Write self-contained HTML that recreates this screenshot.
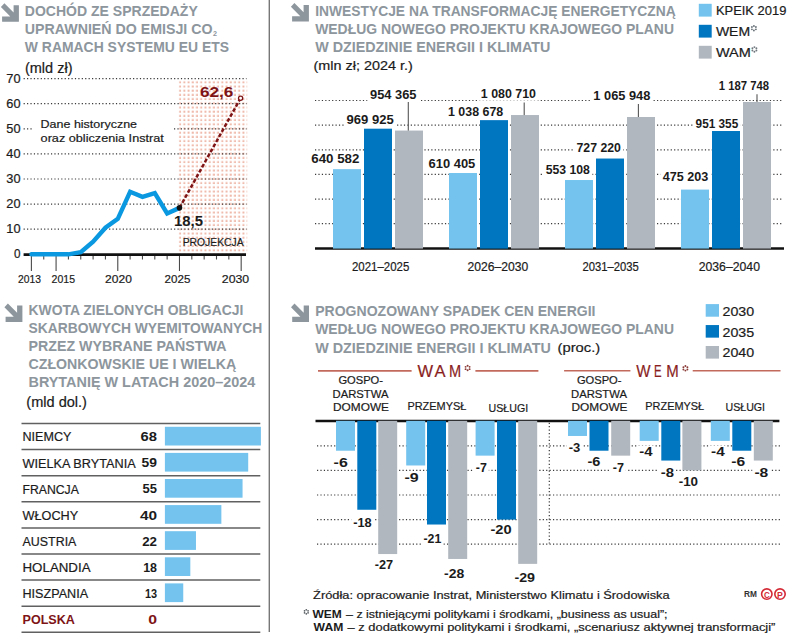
<!DOCTYPE html>
<html><head><meta charset="utf-8"><title>Infografika</title>
<style>html,body{margin:0;padding:0;background:#fff;} svg{display:block;font-family:"Liberation Sans",sans-serif;}</style>
</head><body>
<svg width="788" height="635" viewBox="0 0 788 635">
<rect width="788" height="635" fill="#fff"/>
<line x1="269.30" y1="0.00" x2="269.30" y2="632.00" stroke="#777777" stroke-width="1.4"/>
<polygon fill="#8d969d" points="0.90,6.98 4.40,3.30 13.60,12.50 13.60,5.14 18.90,5.14 18.90,21.70 2.10,21.70 2.10,16.40 10.30,16.40"/>
<text id="t0" x="24.80" y="15.70" font-size="14.2" font-weight="bold" fill="#8d969d" stroke="#8d969d" stroke-width="0" textLength="172.99" lengthAdjust="spacingAndGlyphs">DOCHÓD ZE SPRZEDAŻY</text>
<text id="t1" x="24.80" y="33.80" font-size="14.2" font-weight="bold" fill="#8d969d" stroke="#8d969d" stroke-width="0" textLength="187.78" lengthAdjust="spacingAndGlyphs">UPRAWNIEŃ DO EMISJI CO</text>
<text id="t2" x="212.90" y="36.00" font-size="8.0" font-weight="bold" fill="#8d969d" stroke="#8d969d" stroke-width="0" textLength="4.01" lengthAdjust="spacingAndGlyphs">2</text>
<text id="t3" x="24.80" y="51.70" font-size="14.2" font-weight="bold" fill="#8d969d" stroke="#8d969d" stroke-width="0" textLength="204.33" lengthAdjust="spacingAndGlyphs">W RAMACH SYSTEMU EU ETS</text>
<text id="t4" x="24.95" y="72.50" font-size="14.0" font-weight="normal" fill="#1b1b1b" stroke="#1b1b1b" stroke-width="0.2" textLength="47.61" lengthAdjust="spacingAndGlyphs">(mld zł)</text>
<defs><pattern id="pk" x="178.6" y="80.8" width="4.22" height="4.2" patternUnits="userSpaceOnUse"><rect x="0.5" y="0.5" width="2.0" height="2.0" fill="#efbaab"/></pattern></defs>
<rect x="178.60" y="79.50" width="68.60" height="174.50" fill="url(#pk)"/>
<line x1="23.60" y1="78.60" x2="246.50" y2="78.60" stroke="#3a3a3a" stroke-width="1.2" stroke-dasharray="1.2 2.22"/>
<line x1="23.60" y1="103.70" x2="246.50" y2="103.70" stroke="#3a3a3a" stroke-width="1.2" stroke-dasharray="1.2 2.22"/>
<line x1="23.60" y1="128.80" x2="33.50" y2="128.80" stroke="#3a3a3a" stroke-width="1.2" stroke-dasharray="1.2 2.22"/>
<line x1="174.00" y1="128.80" x2="246.50" y2="128.80" stroke="#3a3a3a" stroke-width="1.2" stroke-dasharray="1.2 2.22"/>
<line x1="23.60" y1="153.90" x2="246.50" y2="153.90" stroke="#3a3a3a" stroke-width="1.2" stroke-dasharray="1.2 2.22"/>
<line x1="23.60" y1="179.00" x2="246.50" y2="179.00" stroke="#3a3a3a" stroke-width="1.2" stroke-dasharray="1.2 2.22"/>
<line x1="23.60" y1="204.10" x2="246.50" y2="204.10" stroke="#3a3a3a" stroke-width="1.2" stroke-dasharray="1.2 2.22"/>
<line x1="23.60" y1="229.20" x2="246.50" y2="229.20" stroke="#3a3a3a" stroke-width="1.2" stroke-dasharray="1.2 2.22"/>
<text id="t5" x="6.30" y="82.60" font-size="12.2" font-weight="normal" fill="#1b1b1b" stroke="#1b1b1b" stroke-width="0.2" textLength="14.23" lengthAdjust="spacingAndGlyphs">70</text>
<text id="t6" x="6.30" y="107.70" font-size="12.2" font-weight="normal" fill="#1b1b1b" stroke="#1b1b1b" stroke-width="0.2" textLength="14.23" lengthAdjust="spacingAndGlyphs">60</text>
<text id="t7" x="6.30" y="132.80" font-size="12.2" font-weight="normal" fill="#1b1b1b" stroke="#1b1b1b" stroke-width="0.2" textLength="14.23" lengthAdjust="spacingAndGlyphs">50</text>
<text id="t8" x="6.30" y="157.90" font-size="12.2" font-weight="normal" fill="#1b1b1b" stroke="#1b1b1b" stroke-width="0.2" textLength="14.23" lengthAdjust="spacingAndGlyphs">40</text>
<text id="t9" x="6.30" y="183.00" font-size="12.2" font-weight="normal" fill="#1b1b1b" stroke="#1b1b1b" stroke-width="0.2" textLength="14.23" lengthAdjust="spacingAndGlyphs">30</text>
<text id="t10" x="6.30" y="208.10" font-size="12.2" font-weight="normal" fill="#1b1b1b" stroke="#1b1b1b" stroke-width="0.2" textLength="14.23" lengthAdjust="spacingAndGlyphs">20</text>
<text id="t11" x="6.30" y="233.20" font-size="12.2" font-weight="normal" fill="#1b1b1b" stroke="#1b1b1b" stroke-width="0.2" textLength="14.23" lengthAdjust="spacingAndGlyphs">10</text>
<text id="t12" x="14.00" y="258.30" font-size="12.2" font-weight="normal" fill="#1b1b1b" stroke="#1b1b1b" stroke-width="0.2" textLength="6.51" lengthAdjust="spacingAndGlyphs">0</text>
<text id="t13" x="40.60" y="128.20" font-size="11.3" font-weight="normal" fill="#1b1b1b" stroke="#1b1b1b" stroke-width="0.2" textLength="96.42" lengthAdjust="spacingAndGlyphs">Dane historyczne</text>
<text id="t14" x="40.60" y="141.60" font-size="11.3" font-weight="normal" fill="#1b1b1b" stroke="#1b1b1b" stroke-width="0.2" textLength="123.23" lengthAdjust="spacingAndGlyphs">oraz obliczenia Instrat</text>
<line x1="31.40" y1="254.00" x2="31.40" y2="271.00" stroke="#4a4a4a" stroke-width="1.1"/>
<line x1="43.74" y1="254.00" x2="43.74" y2="259.50" stroke="#4a4a4a" stroke-width="1.1"/>
<line x1="56.08" y1="254.00" x2="56.08" y2="271.00" stroke="#4a4a4a" stroke-width="1.1"/>
<line x1="68.42" y1="254.00" x2="68.42" y2="259.50" stroke="#4a4a4a" stroke-width="1.1"/>
<line x1="80.76" y1="254.00" x2="80.76" y2="259.50" stroke="#4a4a4a" stroke-width="1.1"/>
<line x1="93.10" y1="254.00" x2="93.10" y2="259.50" stroke="#4a4a4a" stroke-width="1.1"/>
<line x1="105.44" y1="254.00" x2="105.44" y2="259.50" stroke="#4a4a4a" stroke-width="1.1"/>
<line x1="117.78" y1="254.00" x2="117.78" y2="271.00" stroke="#4a4a4a" stroke-width="1.1"/>
<line x1="130.12" y1="254.00" x2="130.12" y2="259.50" stroke="#4a4a4a" stroke-width="1.1"/>
<line x1="142.46" y1="254.00" x2="142.46" y2="259.50" stroke="#4a4a4a" stroke-width="1.1"/>
<line x1="154.80" y1="254.00" x2="154.80" y2="259.50" stroke="#4a4a4a" stroke-width="1.1"/>
<line x1="167.14" y1="254.00" x2="167.14" y2="259.50" stroke="#4a4a4a" stroke-width="1.1"/>
<line x1="179.48" y1="254.00" x2="179.48" y2="271.00" stroke="#4a4a4a" stroke-width="1.1"/>
<line x1="191.82" y1="254.00" x2="191.82" y2="259.50" stroke="#4a4a4a" stroke-width="1.1"/>
<line x1="204.16" y1="254.00" x2="204.16" y2="259.50" stroke="#4a4a4a" stroke-width="1.1"/>
<line x1="216.50" y1="254.00" x2="216.50" y2="259.50" stroke="#4a4a4a" stroke-width="1.1"/>
<line x1="228.84" y1="254.00" x2="228.84" y2="259.50" stroke="#4a4a4a" stroke-width="1.1"/>
<line x1="241.18" y1="254.00" x2="241.18" y2="271.00" stroke="#4a4a4a" stroke-width="1.1"/>
<line x1="23.60" y1="254.60" x2="246.00" y2="254.60" stroke="#111" stroke-width="2.6"/>
<text id="t15" x="18.10" y="282.70" font-size="11.8" font-weight="normal" fill="#1b1b1b" stroke="#1b1b1b" stroke-width="0.2" textLength="22.90" lengthAdjust="spacingAndGlyphs">2013</text>
<text id="t16" x="51.60" y="282.70" font-size="11.8" font-weight="normal" fill="#1b1b1b" stroke="#1b1b1b" stroke-width="0.2" textLength="23.40" lengthAdjust="spacingAndGlyphs">2015</text>
<text id="t17" x="105.10" y="282.70" font-size="11.8" font-weight="normal" fill="#1b1b1b" stroke="#1b1b1b" stroke-width="0.2" textLength="26.80" lengthAdjust="spacingAndGlyphs">2020</text>
<text id="t18" x="164.60" y="282.70" font-size="11.8" font-weight="normal" fill="#1b1b1b" stroke="#1b1b1b" stroke-width="0.2" textLength="25.80" lengthAdjust="spacingAndGlyphs">2025</text>
<text id="t19" x="221.80" y="282.70" font-size="11.8" font-weight="normal" fill="#1b1b1b" stroke="#1b1b1b" stroke-width="0.2" textLength="27.40" lengthAdjust="spacingAndGlyphs">2030</text>
<polyline fill="none" stroke="#0a98e0" stroke-width="4.4" stroke-linejoin="miter" stroke-linecap="round" points="31.40,254.30 43.74,254.30 56.08,254.30 68.42,254.30 80.76,252.29 93.10,241.75 105.44,227.69 117.78,218.91 130.12,191.80 142.46,196.82 154.80,193.06 167.14,213.39 179.48,207.87"/>
<line x1="179.48" y1="207.87" x2="240.5" y2="98.3" stroke="#7e1416" stroke-width="2.5" stroke-dasharray="3.8 2.0"/>
<circle cx="179.48" cy="207.87" r="2.8" fill="#111"/>
<circle cx="240.6" cy="98.3" r="2.1" fill="#fff" stroke="#7e1416" stroke-width="1.3"/>
<text id="t20" x="199.90" y="96.90" font-size="14.8" font-weight="bold" fill="#7e1416" stroke="#7e1416" stroke-width="0" textLength="33.52" lengthAdjust="spacingAndGlyphs">62,6</text>
<text id="t21" x="174.10" y="225.80" font-size="15.5" font-weight="bold" fill="#1b1b1b" stroke="#1b1b1b" stroke-width="0" textLength="28.92" lengthAdjust="spacingAndGlyphs">18,5</text>
<text id="t22" x="182.70" y="246.10" font-size="10.4" font-weight="normal" fill="#1b1b1b" stroke="#1b1b1b" stroke-width="0.2" textLength="60.85" lengthAdjust="spacingAndGlyphs">PROJEKCJA</text>
<polygon fill="#8d969d" points="290.90,6.75 294.40,3.07 303.60,12.27 303.60,4.91 308.90,4.91 308.90,21.47 292.10,21.47 292.10,16.17 300.30,16.17"/>
<text id="t23" x="315.20" y="15.60" font-size="14.2" font-weight="bold" fill="#8d969d" stroke="#8d969d" stroke-width="0" textLength="360.52" lengthAdjust="spacingAndGlyphs">INWESTYCJE NA TRANSFORMACJĘ ENERGETYCZNĄ</text>
<text id="t24" x="315.20" y="33.60" font-size="14.2" font-weight="bold" fill="#8d969d" stroke="#8d969d" stroke-width="0" textLength="358.78" lengthAdjust="spacingAndGlyphs">WEDŁUG NOWEGO PROJEKTU KRAJOWEGO PLANU</text>
<text id="t25" x="315.20" y="52.00" font-size="14.2" font-weight="bold" fill="#8d969d" stroke="#8d969d" stroke-width="0" textLength="235.11" lengthAdjust="spacingAndGlyphs">W DZIEDZINIE ENERGII I KLIMATU</text>
<text id="t26" x="313.50" y="70.10" font-size="13.6" font-weight="normal" fill="#1b1b1b" stroke="#1b1b1b" stroke-width="0.2" textLength="99.22" lengthAdjust="spacingAndGlyphs">(mln zł; 2024 r.)</text>
<rect x="698.80" y="3.80" width="12.90" height="12.80" fill="#73c3ee"/>
<text id="t27" x="715.90" y="14.60" font-size="13.0" font-weight="normal" fill="#1b1b1b" stroke="#1b1b1b" stroke-width="0.2" textLength="70.48" lengthAdjust="spacingAndGlyphs">KPEIK 2019</text>
<rect x="698.80" y="24.80" width="12.90" height="12.80" fill="#0076c1"/>
<text id="t28" x="715.90" y="35.60" font-size="13.0" font-weight="normal" fill="#1b1b1b" stroke="#1b1b1b" stroke-width="0.2" textLength="34.28" lengthAdjust="spacingAndGlyphs">WEM</text>
<rect x="698.80" y="45.80" width="12.90" height="12.80" fill="#b0b7be"/>
<text id="t29" x="715.90" y="56.60" font-size="13.0" font-weight="normal" fill="#1b1b1b" stroke="#1b1b1b" stroke-width="0.2" textLength="34.93" lengthAdjust="spacingAndGlyphs">WAM</text>
<circle cx="753.90" cy="25.91" r="0.97" fill="#6f777d"/>
<circle cx="751.91" cy="27.05" r="0.97" fill="#6f777d"/>
<circle cx="751.91" cy="29.35" r="0.97" fill="#6f777d"/>
<circle cx="753.90" cy="30.49" r="0.97" fill="#6f777d"/>
<circle cx="755.89" cy="29.35" r="0.97" fill="#6f777d"/>
<circle cx="755.89" cy="27.05" r="0.97" fill="#6f777d"/>
<circle cx="754.40" cy="47.10" r="0.97" fill="#6f777d"/>
<circle cx="752.41" cy="48.25" r="0.97" fill="#6f777d"/>
<circle cx="752.41" cy="50.55" r="0.97" fill="#6f777d"/>
<circle cx="754.40" cy="51.70" r="0.97" fill="#6f777d"/>
<circle cx="756.39" cy="50.55" r="0.97" fill="#6f777d"/>
<circle cx="756.39" cy="48.25" r="0.97" fill="#6f777d"/>
<line x1="315.00" y1="223.67" x2="783.00" y2="223.67" stroke="#3a3a3a" stroke-width="1.2" stroke-dasharray="1.2 2.22"/>
<line x1="315.00" y1="199.04" x2="783.00" y2="199.04" stroke="#3a3a3a" stroke-width="1.2" stroke-dasharray="1.2 2.22"/>
<line x1="315.00" y1="174.41" x2="783.00" y2="174.41" stroke="#3a3a3a" stroke-width="1.2" stroke-dasharray="1.2 2.22"/>
<line x1="315.00" y1="149.78" x2="783.00" y2="149.78" stroke="#3a3a3a" stroke-width="1.2" stroke-dasharray="1.2 2.22"/>
<line x1="315.00" y1="125.15" x2="783.00" y2="125.15" stroke="#3a3a3a" stroke-width="1.2" stroke-dasharray="1.2 2.22"/>
<line x1="315.00" y1="100.52" x2="783.00" y2="100.52" stroke="#3a3a3a" stroke-width="1.2" stroke-dasharray="1.2 2.22"/>
<rect x="333.00" y="169.40" width="28.00" height="78.90" fill="#73c3ee"/>
<rect x="364.00" y="128.83" width="28.00" height="119.47" fill="#0076c1"/>
<rect x="395.00" y="130.75" width="28.00" height="117.55" fill="#b0b7be"/>
<rect x="449.00" y="173.12" width="28.00" height="75.18" fill="#73c3ee"/>
<rect x="480.00" y="120.37" width="28.00" height="127.93" fill="#0076c1"/>
<rect x="511.00" y="115.19" width="28.00" height="133.11" fill="#b0b7be"/>
<rect x="565.00" y="180.17" width="28.00" height="68.13" fill="#73c3ee"/>
<rect x="596.00" y="158.73" width="28.00" height="89.57" fill="#0076c1"/>
<rect x="627.00" y="117.01" width="28.00" height="131.29" fill="#b0b7be"/>
<rect x="681.00" y="189.77" width="28.00" height="58.53" fill="#73c3ee"/>
<rect x="712.00" y="131.12" width="28.00" height="117.18" fill="#0076c1"/>
<rect x="743.00" y="102.01" width="28.00" height="146.29" fill="#b0b7be"/>
<rect x="308.80" y="151.70" width="53.10" height="13.50" fill="#fff"/>
<rect x="344.00" y="112.60" width="52.20" height="13.50" fill="#fff"/>
<rect x="367.50" y="87.90" width="51.50" height="13.50" fill="#fff"/>
<rect x="426.00" y="156.50" width="51.80" height="13.50" fill="#fff"/>
<rect x="445.50" y="105.00" width="60.30" height="13.50" fill="#fff"/>
<rect x="478.30" y="87.20" width="60.20" height="13.50" fill="#fff"/>
<rect x="543.20" y="163.30" width="49.20" height="13.50" fill="#fff"/>
<rect x="574.00" y="140.50" width="49.40" height="13.50" fill="#fff"/>
<rect x="590.80" y="88.50" width="62.10" height="13.50" fill="#fff"/>
<rect x="660.30" y="170.30" width="50.60" height="13.50" fill="#fff"/>
<rect x="693.10" y="117.30" width="47.60" height="13.50" fill="#fff"/>
<rect x="716.30" y="79.20" width="55.20" height="13.50" fill="#fff"/>
<text id="t30" x="311.30" y="162.70" font-size="12.2" font-weight="bold" fill="#1b1b1b" stroke="#1b1b1b" stroke-width="0" textLength="48.10" lengthAdjust="spacingAndGlyphs">640 582</text>
<text id="t31" x="346.50" y="123.60" font-size="12.2" font-weight="bold" fill="#1b1b1b" stroke="#1b1b1b" stroke-width="0" textLength="47.20" lengthAdjust="spacingAndGlyphs">969 925</text>
<text id="t32" x="370.00" y="98.90" font-size="12.2" font-weight="bold" fill="#1b1b1b" stroke="#1b1b1b" stroke-width="0" textLength="46.50" lengthAdjust="spacingAndGlyphs">954 365</text>
<text id="t33" x="428.50" y="167.50" font-size="12.2" font-weight="bold" fill="#1b1b1b" stroke="#1b1b1b" stroke-width="0" textLength="46.80" lengthAdjust="spacingAndGlyphs">610 405</text>
<text id="t34" x="448.00" y="116.00" font-size="12.2" font-weight="bold" fill="#1b1b1b" stroke="#1b1b1b" stroke-width="0" textLength="55.29" lengthAdjust="spacingAndGlyphs">1 038 678</text>
<text id="t35" x="480.80" y="98.20" font-size="12.2" font-weight="bold" fill="#1b1b1b" stroke="#1b1b1b" stroke-width="0" textLength="55.19" lengthAdjust="spacingAndGlyphs">1 080 710</text>
<text id="t36" x="545.70" y="174.30" font-size="12.2" font-weight="bold" fill="#1b1b1b" stroke="#1b1b1b" stroke-width="0" textLength="44.20" lengthAdjust="spacingAndGlyphs">553 108</text>
<text id="t37" x="576.50" y="151.50" font-size="12.2" font-weight="bold" fill="#1b1b1b" stroke="#1b1b1b" stroke-width="0" textLength="44.40" lengthAdjust="spacingAndGlyphs">727 220</text>
<text id="t38" x="593.30" y="99.50" font-size="12.2" font-weight="bold" fill="#1b1b1b" stroke="#1b1b1b" stroke-width="0" textLength="57.08" lengthAdjust="spacingAndGlyphs">1 065 948</text>
<text id="t39" x="662.80" y="181.30" font-size="12.2" font-weight="bold" fill="#1b1b1b" stroke="#1b1b1b" stroke-width="0" textLength="45.60" lengthAdjust="spacingAndGlyphs">475 203</text>
<text id="t40" x="695.60" y="128.30" font-size="12.2" font-weight="bold" fill="#1b1b1b" stroke="#1b1b1b" stroke-width="0" textLength="42.60" lengthAdjust="spacingAndGlyphs">951 355</text>
<text id="t41" x="718.80" y="90.20" font-size="12.2" font-weight="bold" fill="#1b1b1b" stroke="#1b1b1b" stroke-width="0" textLength="50.19" lengthAdjust="spacingAndGlyphs">1 187 748</text>
<line x1="408.30" y1="102.00" x2="408.30" y2="130.75" stroke="#555" stroke-width="1.1"/>
<line x1="524.20" y1="102.40" x2="524.20" y2="115.19" stroke="#555" stroke-width="1.1"/>
<line x1="638.40" y1="103.90" x2="638.40" y2="117.01" stroke="#555" stroke-width="1.1"/>
<line x1="757.00" y1="94.20" x2="757.00" y2="102.01" stroke="#555" stroke-width="1.1"/>
<line x1="315.00" y1="248.55" x2="784.00" y2="248.55" stroke="#111" stroke-width="2.6"/>
<rect x="333.00" y="169.40" width="28.00" height="79.20" fill="#73c3ee"/>
<rect x="364.00" y="128.83" width="28.00" height="119.77" fill="#0076c1"/>
<rect x="395.00" y="130.75" width="28.00" height="117.85" fill="#b0b7be"/>
<rect x="449.00" y="173.12" width="28.00" height="75.48" fill="#73c3ee"/>
<rect x="480.00" y="120.37" width="28.00" height="128.23" fill="#0076c1"/>
<rect x="511.00" y="115.19" width="28.00" height="133.41" fill="#b0b7be"/>
<rect x="565.00" y="180.17" width="28.00" height="68.43" fill="#73c3ee"/>
<rect x="596.00" y="158.73" width="28.00" height="89.87" fill="#0076c1"/>
<rect x="627.00" y="117.01" width="28.00" height="131.59" fill="#b0b7be"/>
<rect x="681.00" y="189.77" width="28.00" height="58.83" fill="#73c3ee"/>
<rect x="712.00" y="131.12" width="28.00" height="117.48" fill="#0076c1"/>
<rect x="743.00" y="102.01" width="28.00" height="146.59" fill="#b0b7be"/>
<text id="t42" x="352.00" y="271.00" font-size="12.0" font-weight="normal" fill="#1b1b1b" stroke="#1b1b1b" stroke-width="0.2" textLength="57.31" lengthAdjust="spacingAndGlyphs">2021–2025</text>
<text id="t43" x="467.50" y="271.00" font-size="12.0" font-weight="normal" fill="#1b1b1b" stroke="#1b1b1b" stroke-width="0.2" textLength="60.71" lengthAdjust="spacingAndGlyphs">2026–2030</text>
<text id="t44" x="582.40" y="271.00" font-size="12.0" font-weight="normal" fill="#1b1b1b" stroke="#1b1b1b" stroke-width="0.2" textLength="56.31" lengthAdjust="spacingAndGlyphs">2031–2035</text>
<text id="t45" x="698.70" y="271.00" font-size="12.0" font-weight="normal" fill="#1b1b1b" stroke="#1b1b1b" stroke-width="0.2" textLength="61.31" lengthAdjust="spacingAndGlyphs">2036–2040</text>
<polygon fill="#8d969d" points="4.40,307.28 7.90,303.60 17.10,312.80 17.10,305.44 22.40,305.44 22.40,322.00 5.60,322.00 5.60,316.70 13.80,316.70"/>
<text id="t46" x="28.50" y="315.30" font-size="14.2" font-weight="bold" fill="#8d969d" stroke="#8d969d" stroke-width="0" textLength="214.89" lengthAdjust="spacingAndGlyphs">KWOTA ZIELONYCH OBLIGACJI</text>
<text id="t47" x="28.50" y="333.00" font-size="14.2" font-weight="bold" fill="#8d969d" stroke="#8d969d" stroke-width="0" textLength="233.81" lengthAdjust="spacingAndGlyphs">SKARBOWYCH WYEMITOWANYCH</text>
<text id="t48" x="28.50" y="350.90" font-size="14.2" font-weight="bold" fill="#8d969d" stroke="#8d969d" stroke-width="0" textLength="197.92" lengthAdjust="spacingAndGlyphs">PRZEZ WYBRANE PAŃSTWA</text>
<text id="t49" x="28.50" y="369.20" font-size="14.2" font-weight="bold" fill="#8d969d" stroke="#8d969d" stroke-width="0" textLength="207.82" lengthAdjust="spacingAndGlyphs">CZŁONKOWSKIE UE I WIELKĄ</text>
<text id="t50" x="28.50" y="387.10" font-size="14.2" font-weight="bold" fill="#8d969d" stroke="#8d969d" stroke-width="0" textLength="226.70" lengthAdjust="spacingAndGlyphs">BRYTANIĘ W LATACH 2020–2024</text>
<text id="t51" x="26.30" y="407.30" font-size="14.0" font-weight="normal" fill="#1b1b1b" stroke="#1b1b1b" stroke-width="0.2" textLength="60.67" lengthAdjust="spacingAndGlyphs">(mld dol.)</text>
<text id="t52" x="22.50" y="441.40" font-size="13.2" font-weight="normal" fill="#1b1b1b" stroke="#1b1b1b" stroke-width="0.2" textLength="48.89" lengthAdjust="spacingAndGlyphs">NIEMCY</text>
<text id="t53" x="140.60" y="441.20" font-size="13.2" font-weight="bold" fill="#1b1b1b" stroke="#1b1b1b" stroke-width="0" textLength="16.43" lengthAdjust="spacingAndGlyphs">68</text>
<rect x="164.90" y="426.80" width="96.00" height="18.70" fill="#73c3ee"/>
<text id="t54" x="22.50" y="467.50" font-size="13.2" font-weight="normal" fill="#1b1b1b" stroke="#1b1b1b" stroke-width="0.2" textLength="113.24" lengthAdjust="spacingAndGlyphs">WIELKA BRYTANIA</text>
<text id="t55" x="141.60" y="467.30" font-size="13.2" font-weight="bold" fill="#1b1b1b" stroke="#1b1b1b" stroke-width="0" textLength="15.43" lengthAdjust="spacingAndGlyphs">59</text>
<rect x="164.90" y="452.90" width="83.30" height="18.70" fill="#73c3ee"/>
<text id="t56" x="22.50" y="493.60" font-size="13.2" font-weight="normal" fill="#1b1b1b" stroke="#1b1b1b" stroke-width="0.2" textLength="56.36" lengthAdjust="spacingAndGlyphs">FRANCJA</text>
<text id="t57" x="142.60" y="493.40" font-size="13.2" font-weight="bold" fill="#1b1b1b" stroke="#1b1b1b" stroke-width="0" textLength="14.43" lengthAdjust="spacingAndGlyphs">55</text>
<rect x="164.90" y="479.00" width="77.65" height="18.70" fill="#73c3ee"/>
<text id="t58" x="22.50" y="519.70" font-size="13.2" font-weight="normal" fill="#1b1b1b" stroke="#1b1b1b" stroke-width="0.2" textLength="55.69" lengthAdjust="spacingAndGlyphs">WŁOCHY</text>
<text id="t59" x="139.90" y="519.50" font-size="13.2" font-weight="bold" fill="#1b1b1b" stroke="#1b1b1b" stroke-width="0" textLength="17.14" lengthAdjust="spacingAndGlyphs">40</text>
<rect x="164.90" y="505.10" width="56.47" height="18.70" fill="#73c3ee"/>
<text id="t60" x="22.50" y="545.80" font-size="13.2" font-weight="normal" fill="#1b1b1b" stroke="#1b1b1b" stroke-width="0.2" textLength="53.89" lengthAdjust="spacingAndGlyphs">AUSTRIA</text>
<text id="t61" x="142.20" y="545.60" font-size="13.2" font-weight="bold" fill="#1b1b1b" stroke="#1b1b1b" stroke-width="0" textLength="14.83" lengthAdjust="spacingAndGlyphs">22</text>
<rect x="164.90" y="531.20" width="31.06" height="18.70" fill="#73c3ee"/>
<text id="t62" x="22.50" y="571.90" font-size="13.2" font-weight="normal" fill="#1b1b1b" stroke="#1b1b1b" stroke-width="0.2" textLength="68.07" lengthAdjust="spacingAndGlyphs">HOLANDIA</text>
<text id="t63" x="143.20" y="571.70" font-size="13.2" font-weight="bold" fill="#1b1b1b" stroke="#1b1b1b" stroke-width="0" textLength="13.83" lengthAdjust="spacingAndGlyphs">18</text>
<rect x="164.90" y="557.30" width="25.41" height="18.70" fill="#73c3ee"/>
<text id="t64" x="22.50" y="598.00" font-size="13.2" font-weight="normal" fill="#1b1b1b" stroke="#1b1b1b" stroke-width="0.2" textLength="65.53" lengthAdjust="spacingAndGlyphs">HISZPANIA</text>
<text id="t65" x="144.90" y="597.80" font-size="13.2" font-weight="bold" fill="#1b1b1b" stroke="#1b1b1b" stroke-width="0" textLength="12.13" lengthAdjust="spacingAndGlyphs">13</text>
<rect x="164.90" y="583.40" width="18.35" height="18.70" fill="#73c3ee"/>
<text id="t66" x="22.50" y="624.10" font-size="13.2" font-weight="bold" fill="#7e1416" stroke="#7e1416" stroke-width="0" textLength="52.43" lengthAdjust="spacingAndGlyphs">POLSKA</text>
<text id="t67" x="148.20" y="623.90" font-size="13.2" font-weight="bold" fill="#7e1416" stroke="#7e1416" stroke-width="0" textLength="8.82" lengthAdjust="spacingAndGlyphs">0</text>
<line x1="21.50" y1="423.50" x2="260.30" y2="423.50" stroke="#606060" stroke-width="1.5"/>
<line x1="21.50" y1="449.60" x2="260.30" y2="449.60" stroke="#606060" stroke-width="1.5"/>
<line x1="21.50" y1="475.70" x2="260.30" y2="475.70" stroke="#606060" stroke-width="1.5"/>
<line x1="21.50" y1="501.80" x2="260.30" y2="501.80" stroke="#606060" stroke-width="1.5"/>
<line x1="21.50" y1="527.90" x2="260.30" y2="527.90" stroke="#606060" stroke-width="1.5"/>
<line x1="21.50" y1="554.00" x2="260.30" y2="554.00" stroke="#606060" stroke-width="1.5"/>
<line x1="21.50" y1="580.10" x2="260.30" y2="580.10" stroke="#606060" stroke-width="1.5"/>
<line x1="21.50" y1="606.20" x2="260.30" y2="606.20" stroke="#606060" stroke-width="1.5"/>
<line x1="21.50" y1="632.30" x2="260.30" y2="632.30" stroke="#606060" stroke-width="1.5"/>
<polygon fill="#8d969d" points="291.00,307.28 294.50,303.60 303.70,312.80 303.70,305.44 309.00,305.44 309.00,322.00 292.20,322.00 292.20,316.70 300.40,316.70"/>
<text id="t68" x="315.20" y="316.30" font-size="14.2" font-weight="bold" fill="#8d969d" stroke="#8d969d" stroke-width="0" textLength="280.31" lengthAdjust="spacingAndGlyphs">PROGNOZOWANY SPADEK CEN ENERGII</text>
<text id="t69" x="315.20" y="334.20" font-size="14.2" font-weight="bold" fill="#8d969d" stroke="#8d969d" stroke-width="0" textLength="358.78" lengthAdjust="spacingAndGlyphs">WEDŁUG NOWEGO PROJEKTU KRAJOWEGO PLANU</text>
<text id="t70" x="315.20" y="352.50" font-size="14.2" font-weight="bold" fill="#8d969d" stroke="#8d969d" stroke-width="0" textLength="235.81" lengthAdjust="spacingAndGlyphs">W DZIEDZINIE ENERGII I KLIMATU</text>
<text id="t71" x="557.50" y="351.50" font-size="13.6" font-weight="normal" fill="#1b1b1b" stroke="#1b1b1b" stroke-width="0.2" textLength="42.69" lengthAdjust="spacingAndGlyphs">(proc.)</text>
<rect x="705.70" y="304.10" width="13.30" height="12.60" fill="#73c3ee"/>
<text id="t72" x="722.50" y="315.80" font-size="13.2" font-weight="normal" fill="#1b1b1b" stroke="#1b1b1b" stroke-width="0.2" textLength="31.70" lengthAdjust="spacingAndGlyphs">2030</text>
<rect x="705.70" y="325.05" width="13.30" height="12.60" fill="#0076c1"/>
<text id="t73" x="722.50" y="336.60" font-size="13.2" font-weight="normal" fill="#1b1b1b" stroke="#1b1b1b" stroke-width="0.2" textLength="31.70" lengthAdjust="spacingAndGlyphs">2035</text>
<rect x="705.70" y="346.00" width="13.30" height="12.60" fill="#b0b7be"/>
<text id="t74" x="722.50" y="357.40" font-size="13.2" font-weight="normal" fill="#1b1b1b" stroke="#1b1b1b" stroke-width="0.2" textLength="31.70" lengthAdjust="spacingAndGlyphs">2040</text>
<line x1="318.00" y1="370.90" x2="411.60" y2="370.90" stroke="#c26a5c" stroke-width="1.6"/>
<line x1="475.40" y1="370.90" x2="538.40" y2="370.90" stroke="#c26a5c" stroke-width="1.6"/>
<line x1="564.10" y1="370.80" x2="630.40" y2="370.80" stroke="#c26a5c" stroke-width="1.6"/>
<line x1="692.70" y1="370.80" x2="780.50" y2="370.80" stroke="#c26a5c" stroke-width="1.6"/>
<text id="t75" x="417.50" y="376.60" font-size="16.5" font-weight="normal" fill="#8a1e1e" stroke="#8a1e1e" stroke-width="0.2" textLength="15.58" lengthAdjust="spacingAndGlyphs">W</text>
<text id="t76" x="434.40" y="376.60" font-size="16.5" font-weight="normal" fill="#8a1e1e" stroke="#8a1e1e" stroke-width="0.2" textLength="11.05" lengthAdjust="spacingAndGlyphs">A</text>
<text id="t77" x="449.10" y="376.60" font-size="16.5" font-weight="normal" fill="#8a1e1e" stroke="#8a1e1e" stroke-width="0.2" textLength="12.17" lengthAdjust="spacingAndGlyphs">M</text>
<text id="t78" x="636.20" y="376.90" font-size="16.5" font-weight="normal" fill="#8a1e1e" stroke="#8a1e1e" stroke-width="0.2" textLength="14.28" lengthAdjust="spacingAndGlyphs">W</text>
<text id="t79" x="654.00" y="376.90" font-size="16.5" font-weight="normal" fill="#8a1e1e" stroke="#8a1e1e" stroke-width="0.2" textLength="7.62" lengthAdjust="spacingAndGlyphs">E</text>
<text id="t80" x="666.20" y="376.90" font-size="16.5" font-weight="normal" fill="#8a1e1e" stroke="#8a1e1e" stroke-width="0.2" textLength="12.47" lengthAdjust="spacingAndGlyphs">M</text>
<circle cx="467.60" cy="365.70" r="0.97" fill="#8a3a36"/>
<circle cx="465.61" cy="366.85" r="0.97" fill="#8a3a36"/>
<circle cx="465.61" cy="369.15" r="0.97" fill="#8a3a36"/>
<circle cx="467.60" cy="370.30" r="0.97" fill="#8a3a36"/>
<circle cx="469.59" cy="369.15" r="0.97" fill="#8a3a36"/>
<circle cx="469.59" cy="366.85" r="0.97" fill="#8a3a36"/>
<circle cx="685.40" cy="366.00" r="0.97" fill="#8a3a36"/>
<circle cx="683.41" cy="367.15" r="0.97" fill="#8a3a36"/>
<circle cx="683.41" cy="369.45" r="0.97" fill="#8a3a36"/>
<circle cx="685.40" cy="370.60" r="0.97" fill="#8a3a36"/>
<circle cx="687.39" cy="369.45" r="0.97" fill="#8a3a36"/>
<circle cx="687.39" cy="367.15" r="0.97" fill="#8a3a36"/>
<text id="t81" x="338.40" y="384.00" font-size="11.4" font-weight="normal" fill="#1b1b1b" stroke="#1b1b1b" stroke-width="0.2" textLength="44.61" lengthAdjust="spacingAndGlyphs">GOSPO-</text>
<text id="t82" x="332.50" y="397.50" font-size="11.4" font-weight="normal" fill="#1b1b1b" stroke="#1b1b1b" stroke-width="0.2" textLength="55.98" lengthAdjust="spacingAndGlyphs">DARSTWA</text>
<text id="t83" x="333.00" y="411.10" font-size="11.4" font-weight="normal" fill="#1b1b1b" stroke="#1b1b1b" stroke-width="0.2" textLength="56.02" lengthAdjust="spacingAndGlyphs">DOMOWE</text>
<text id="t84" x="576.90" y="384.00" font-size="11.4" font-weight="normal" fill="#1b1b1b" stroke="#1b1b1b" stroke-width="0.2" textLength="44.61" lengthAdjust="spacingAndGlyphs">GOSPO-</text>
<text id="t85" x="571.00" y="397.50" font-size="11.4" font-weight="normal" fill="#1b1b1b" stroke="#1b1b1b" stroke-width="0.2" textLength="55.98" lengthAdjust="spacingAndGlyphs">DARSTWA</text>
<text id="t86" x="571.50" y="411.10" font-size="11.4" font-weight="normal" fill="#1b1b1b" stroke="#1b1b1b" stroke-width="0.2" textLength="56.02" lengthAdjust="spacingAndGlyphs">DOMOWE</text>
<text id="t87" x="407.40" y="410.20" font-size="11.4" font-weight="normal" fill="#1b1b1b" stroke="#1b1b1b" stroke-width="0.2" textLength="58.90" lengthAdjust="spacingAndGlyphs">PRZEMYSŁ</text>
<text id="t88" x="488.60" y="411.80" font-size="11.4" font-weight="normal" fill="#1b1b1b" stroke="#1b1b1b" stroke-width="0.2" textLength="39.58" lengthAdjust="spacingAndGlyphs">USŁUGI</text>
<text id="t89" x="645.30" y="410.40" font-size="11.4" font-weight="normal" fill="#1b1b1b" stroke="#1b1b1b" stroke-width="0.2" textLength="58.90" lengthAdjust="spacingAndGlyphs">PRZEMYSŁ</text>
<text id="t90" x="725.50" y="411.00" font-size="11.4" font-weight="normal" fill="#1b1b1b" stroke="#1b1b1b" stroke-width="0.2" textLength="39.58" lengthAdjust="spacingAndGlyphs">USŁUGI</text>
<line x1="317.00" y1="445.80" x2="781.00" y2="445.80" stroke="#3a3a3a" stroke-width="1.2" stroke-dasharray="1.2 2.22"/>
<line x1="317.00" y1="470.40" x2="781.00" y2="470.40" stroke="#3a3a3a" stroke-width="1.2" stroke-dasharray="1.2 2.22"/>
<line x1="317.00" y1="495.00" x2="781.00" y2="495.00" stroke="#3a3a3a" stroke-width="1.2" stroke-dasharray="1.2 2.22"/>
<line x1="317.00" y1="519.60" x2="781.00" y2="519.60" stroke="#3a3a3a" stroke-width="1.2" stroke-dasharray="1.2 2.22"/>
<line x1="317.00" y1="544.20" x2="781.00" y2="544.20" stroke="#3a3a3a" stroke-width="1.2" stroke-dasharray="1.2 2.22"/>
<line x1="549.3" y1="422.7" x2="549.3" y2="545" stroke="#3a3a3a" stroke-width="1.2" stroke-dasharray="1.2 2.22"/>
<rect x="331.60" y="456.50" width="18.20" height="13.00" fill="#fff"/>
<rect x="351.20" y="516.30" width="22.50" height="13.00" fill="#fff"/>
<rect x="372.80" y="558.00" width="22.40" height="13.00" fill="#fff"/>
<rect x="402.50" y="471.60" width="18.20" height="13.00" fill="#fff"/>
<rect x="421.40" y="532.60" width="21.90" height="13.00" fill="#fff"/>
<rect x="442.00" y="567.10" width="24.20" height="13.00" fill="#fff"/>
<rect x="473.80" y="461.00" width="15.00" height="13.00" fill="#fff"/>
<rect x="488.40" y="523.00" width="25.20" height="13.00" fill="#fff"/>
<rect x="512.40" y="571.20" width="24.60" height="13.00" fill="#fff"/>
<rect x="566.70" y="441.00" width="15.60" height="13.00" fill="#fff"/>
<rect x="585.50" y="455.40" width="16.90" height="13.00" fill="#fff"/>
<rect x="610.70" y="461.30" width="15.20" height="13.00" fill="#fff"/>
<rect x="637.30" y="445.50" width="17.30" height="13.00" fill="#fff"/>
<rect x="658.80" y="466.00" width="17.20" height="13.00" fill="#fff"/>
<rect x="676.70" y="475.70" width="23.40" height="13.00" fill="#fff"/>
<rect x="709.00" y="445.50" width="17.70" height="13.00" fill="#fff"/>
<rect x="729.30" y="455.40" width="17.90" height="13.00" fill="#fff"/>
<rect x="752.40" y="466.70" width="17.90" height="13.00" fill="#fff"/>
<line x1="315.50" y1="421.00" x2="779.40" y2="421.00" stroke="#111" stroke-width="2.5"/>
<rect x="336.00" y="420.80" width="19.00" height="29.92" fill="#73c3ee"/>
<rect x="357.30" y="420.80" width="19.00" height="88.96" fill="#0076c1"/>
<rect x="378.20" y="420.80" width="19.00" height="133.24" fill="#b0b7be"/>
<rect x="406.20" y="420.80" width="19.00" height="44.68" fill="#73c3ee"/>
<rect x="427.00" y="420.80" width="19.00" height="103.72" fill="#0076c1"/>
<rect x="448.20" y="420.80" width="19.00" height="138.16" fill="#b0b7be"/>
<rect x="475.60" y="420.80" width="19.00" height="34.84" fill="#73c3ee"/>
<rect x="497.00" y="420.80" width="19.00" height="98.80" fill="#0076c1"/>
<rect x="518.20" y="420.80" width="19.00" height="143.08" fill="#b0b7be"/>
<rect x="568.00" y="420.80" width="19.00" height="15.16" fill="#73c3ee"/>
<rect x="589.50" y="420.80" width="19.00" height="29.92" fill="#0076c1"/>
<rect x="611.20" y="420.80" width="19.00" height="34.84" fill="#b0b7be"/>
<rect x="639.70" y="420.80" width="19.00" height="20.08" fill="#73c3ee"/>
<rect x="661.30" y="420.80" width="19.00" height="39.76" fill="#0076c1"/>
<rect x="682.40" y="420.80" width="19.00" height="49.60" fill="#b0b7be"/>
<rect x="710.80" y="420.80" width="19.00" height="20.08" fill="#73c3ee"/>
<rect x="732.30" y="420.80" width="19.00" height="29.92" fill="#0076c1"/>
<rect x="753.80" y="420.80" width="19.00" height="39.76" fill="#b0b7be"/>
<text id="t91" x="333.60" y="467.00" font-size="13.0" font-weight="bold" fill="#1b1b1b" stroke="#1b1b1b" stroke-width="0" textLength="14.19" lengthAdjust="spacingAndGlyphs">-6</text>
<text id="t92" x="353.20" y="526.80" font-size="13.0" font-weight="bold" fill="#1b1b1b" stroke="#1b1b1b" stroke-width="0" textLength="18.51" lengthAdjust="spacingAndGlyphs">-18</text>
<text id="t93" x="374.80" y="568.50" font-size="13.0" font-weight="bold" fill="#1b1b1b" stroke="#1b1b1b" stroke-width="0" textLength="18.40" lengthAdjust="spacingAndGlyphs">-27</text>
<text id="t94" x="404.50" y="482.10" font-size="13.0" font-weight="bold" fill="#1b1b1b" stroke="#1b1b1b" stroke-width="0" textLength="14.19" lengthAdjust="spacingAndGlyphs">-9</text>
<text id="t95" x="423.40" y="543.10" font-size="13.0" font-weight="bold" fill="#1b1b1b" stroke="#1b1b1b" stroke-width="0" textLength="17.90" lengthAdjust="spacingAndGlyphs">-21</text>
<text id="t96" x="444.00" y="577.60" font-size="13.0" font-weight="bold" fill="#1b1b1b" stroke="#1b1b1b" stroke-width="0" textLength="20.21" lengthAdjust="spacingAndGlyphs">-28</text>
<text id="t97" x="475.80" y="471.50" font-size="13.0" font-weight="bold" fill="#1b1b1b" stroke="#1b1b1b" stroke-width="0" textLength="10.99" lengthAdjust="spacingAndGlyphs">-7</text>
<text id="t98" x="490.40" y="533.50" font-size="13.0" font-weight="bold" fill="#1b1b1b" stroke="#1b1b1b" stroke-width="0" textLength="21.21" lengthAdjust="spacingAndGlyphs">-20</text>
<text id="t99" x="514.40" y="581.70" font-size="13.0" font-weight="bold" fill="#1b1b1b" stroke="#1b1b1b" stroke-width="0" textLength="20.61" lengthAdjust="spacingAndGlyphs">-29</text>
<text id="t100" x="568.70" y="451.50" font-size="13.0" font-weight="bold" fill="#1b1b1b" stroke="#1b1b1b" stroke-width="0" textLength="11.59" lengthAdjust="spacingAndGlyphs">-3</text>
<text id="t101" x="587.50" y="465.90" font-size="13.0" font-weight="bold" fill="#1b1b1b" stroke="#1b1b1b" stroke-width="0" textLength="12.89" lengthAdjust="spacingAndGlyphs">-6</text>
<text id="t102" x="612.70" y="471.80" font-size="13.0" font-weight="bold" fill="#1b1b1b" stroke="#1b1b1b" stroke-width="0" textLength="11.19" lengthAdjust="spacingAndGlyphs">-7</text>
<text id="t103" x="639.30" y="456.00" font-size="13.0" font-weight="bold" fill="#1b1b1b" stroke="#1b1b1b" stroke-width="0" textLength="13.29" lengthAdjust="spacingAndGlyphs">-4</text>
<text id="t104" x="660.80" y="476.50" font-size="13.0" font-weight="bold" fill="#1b1b1b" stroke="#1b1b1b" stroke-width="0" textLength="13.19" lengthAdjust="spacingAndGlyphs">-8</text>
<text id="t105" x="678.70" y="486.20" font-size="13.0" font-weight="bold" fill="#1b1b1b" stroke="#1b1b1b" stroke-width="0" textLength="19.41" lengthAdjust="spacingAndGlyphs">-10</text>
<text id="t106" x="711.00" y="456.00" font-size="13.0" font-weight="bold" fill="#1b1b1b" stroke="#1b1b1b" stroke-width="0" textLength="13.69" lengthAdjust="spacingAndGlyphs">-4</text>
<text id="t107" x="731.30" y="465.90" font-size="13.0" font-weight="bold" fill="#1b1b1b" stroke="#1b1b1b" stroke-width="0" textLength="13.89" lengthAdjust="spacingAndGlyphs">-6</text>
<text id="t108" x="754.40" y="477.20" font-size="13.0" font-weight="bold" fill="#1b1b1b" stroke="#1b1b1b" stroke-width="0" textLength="13.89" lengthAdjust="spacingAndGlyphs">-8</text>
<text id="t109" x="313.10" y="598.60" font-size="11.0" font-weight="normal" fill="#1b1b1b" stroke="#1b1b1b" stroke-width="0.2" textLength="356.53" lengthAdjust="spacingAndGlyphs">Źródła: opracowanie Instrat, Ministerstwo Klimatu i Środowiska</text>
<circle cx="306.30" cy="609.76" r="0.86" fill="#555b60"/>
<circle cx="304.53" cy="610.78" r="0.86" fill="#555b60"/>
<circle cx="304.53" cy="612.82" r="0.86" fill="#555b60"/>
<circle cx="306.30" cy="613.84" r="0.86" fill="#555b60"/>
<circle cx="308.07" cy="612.82" r="0.86" fill="#555b60"/>
<circle cx="308.07" cy="610.78" r="0.86" fill="#555b60"/>
<text id="t110" x="312.50" y="617.80" font-size="11.0" font-weight="bold" fill="#1b1b1b" stroke="#1b1b1b" stroke-width="0" textLength="29.29" lengthAdjust="spacingAndGlyphs">WEM</text>
<text id="t111" x="346.00" y="617.80" font-size="11.0" font-weight="normal" fill="#1b1b1b" stroke="#1b1b1b" stroke-width="0.2" textLength="321.53" lengthAdjust="spacingAndGlyphs">– z istniejącymi politykami i środkami, „business as usual”;</text>
<text id="t112" x="313.60" y="631.00" font-size="11.0" font-weight="bold" fill="#1b1b1b" stroke="#1b1b1b" stroke-width="0" textLength="29.69" lengthAdjust="spacingAndGlyphs">WAM</text>
<text id="t113" x="347.50" y="631.00" font-size="11.0" font-weight="normal" fill="#1b1b1b" stroke="#1b1b1b" stroke-width="0.2" textLength="427.87" lengthAdjust="spacingAndGlyphs">– z dodatkowymi politykami i środkami, „scenariusz aktywnej transformacji”</text>
<text id="t114" x="744.00" y="596.90" font-size="8.2" font-weight="bold" fill="#333" stroke="#333" stroke-width="0" textLength="12.90" lengthAdjust="spacingAndGlyphs">RM</text>
<circle cx="766.8" cy="594.1" r="5.2" fill="none" stroke="#d42a36" stroke-width="1.6"/>
<text id="t115" x="763.90" y="597.90" font-size="8.6" font-weight="bold" fill="#d42a36" stroke="#d42a36" stroke-width="0" textLength="5.82" lengthAdjust="spacingAndGlyphs">C</text>
<circle cx="780.0" cy="594.1" r="5.2" fill="none" stroke="#d42a36" stroke-width="1.6"/>
<text id="t116" x="777.10" y="597.90" font-size="8.6" font-weight="bold" fill="#d42a36" stroke="#d42a36" stroke-width="0" textLength="5.82" lengthAdjust="spacingAndGlyphs">P</text>
</svg>
</body></html>
